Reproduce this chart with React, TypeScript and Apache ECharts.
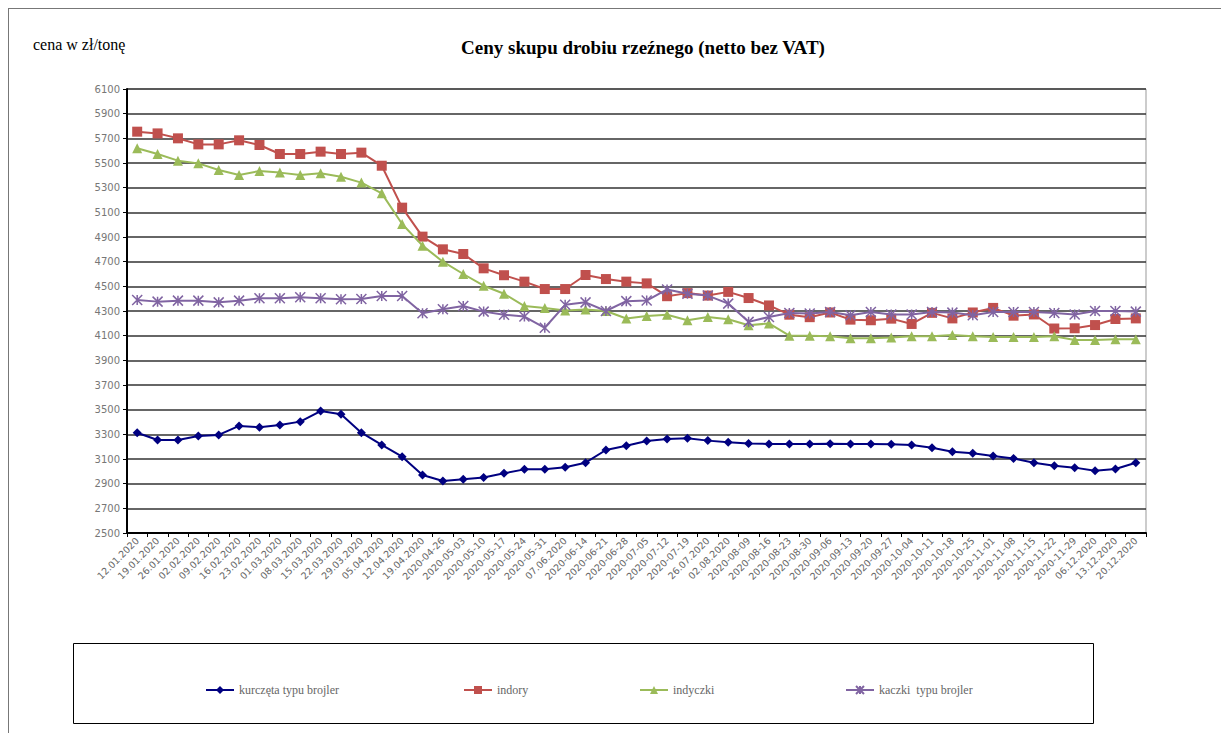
import React, { useEffect, useRef } from "react";
import * as echarts from "echarts";

const categories: string[] = [
  "12.01.2020", "19.01.2020", "26.01.2020", "02.02.2020", "09.02.2020", "16.02.2020", "23.02.2020",
  "01.03.2020", "08.03.2020", "15.03.2020", "22.03.2020", "29.03.2020", "05.04.2020", "12.04.2020",
  "19.04.2020", "2020-04-26", "2020-05-03", "2020-05-10", "2020-05-17", "2020-05-24", "2020-05-31",
  "07.06.2020", "2020-06-14", "2020-06-21", "2020-06-28", "2020-07-05", "2020-07-12", "2020-07-19",
  "26.07.2020", "02.08.2020", "2020-08-09", "2020-08-16", "2020-08-23", "2020-08-30", "2020-09-06",
  "2020-09-13", "2020-09-20", "2020-09-27", "2020-10-04", "2020-10-11", "2020-10-18", "2020-10-25",
  "2020-11-01", "2020-11-08", "2020-11-15", "2020-11-22", "2020-11-29", "06.12.2020", "13.12.2020",
  "20.12.2020",
];

const kurczeta: number[] = [
  3313, 3254, 3254, 3287, 3295, 3368, 3357, 3376, 3403, 3489, 3462, 3313, 3214, 3119, 2970, 2922, 2935,
  2950, 2984, 3016, 3016, 3033, 3070, 3173, 3208, 3246, 3262, 3268, 3249, 3235, 3225, 3222, 3222, 3222,
  3224, 3222, 3222, 3219, 3214, 3192, 3159, 3146, 3124, 3105, 3070, 3046, 3030, 3005, 3019, 3070,
];

const indory: number[] = [
  5754, 5740, 5700, 5651, 5651, 5684, 5646, 5573, 5573, 5592, 5573, 5584, 5478, 5138, 4903, 4800, 4762,
  4646, 4590, 4538, 4478, 4478, 4592, 4559, 4538, 4524, 4420, 4445, 4425, 4455, 4405, 4345, 4270, 4250,
  4288, 4230, 4225, 4238, 4195, 4285, 4240, 4288, 4325, 4262, 4272, 4158, 4160, 4186, 4235, 4240,
];

const indyczki: number[] = [
  5619, 5573, 5519, 5497, 5443, 5403, 5435, 5422, 5403, 5416, 5389, 5341, 5254, 5005, 4830, 4700, 4600,
  4505, 4440, 4340, 4324, 4305, 4313, 4300, 4239, 4260, 4270, 4225, 4252, 4233, 4185, 4199, 4100, 4100,
  4095, 4080, 4080, 4085, 4095, 4095, 4105, 4095, 4090, 4090, 4090, 4095, 4065, 4065, 4070, 4070,
];

const kaczki: number[] = [
  4389, 4376, 4384, 4384, 4370, 4384, 4403, 4403, 4411, 4403, 4395, 4397, 4422, 4422, 4281, 4314, 4341,
  4295, 4270, 4255, 4164, 4350, 4370, 4300, 4380, 4385, 4475, 4440, 4425, 4360, 4212, 4252, 4284, 4279,
  4292, 4265, 4292, 4271, 4271, 4292, 4287, 4265, 4292, 4292, 4292, 4284, 4271, 4300, 4300, 4295,
];

const yTickLabels: string[] = [
  "2500", "2700", "2900", "3100", "3300", "3500", "3700", "3900", "4100",
  "4300", "4500", "4700", "4900", "5100", "5300", "5500", "5700", "5900", "6100",
];

const seriesNames: string[] = ["kurczęta typu brojler", "indory", "indyczki", "kaczki  typu brojler"];
const seriesColors: string[] = ["#000080", "#C0504D", "#9BBB59", "#8064A2"];

const TITLE = "Ceny skupu drobiu rzeźnego (netto bez VAT)";
const Y_NAME = "cena w zł/tonę";

const Y_MIN = Number(yTickLabels[0]);
const Y_MAX = Number(yTickLabels[yTickLabels.length - 1]);

const starPath = "path://M0,0L10,10M10,0L0,10M5,0L5,10";

export default function App() {
  const ref = useRef<HTMLDivElement>(null);

  useEffect(() => {
    if (!ref.current) return;
    const chart = echarts.init(ref.current, undefined, { renderer: "svg" });

    const symbols = ["diamond", "rect", "triangle", starPath];
    const sizes = [9, 10, 10, 10];
    const datasets = [kurczeta, indory, indyczki, kaczki];
    const legendLefts = [200, 458, 634, 840];

    const series = datasets.map((d, i) => ({
      name: seriesNames[i],
      type: "line",
      data: d,
      xAxisIndex: 0,
      yAxisIndex: 0,
      symbol: symbols[i],
      symbolSize: sizes[i],
      showSymbol: true,
      lineStyle: { color: seriesColors[i], width: 2 },
      itemStyle:
        i === 3
          ? { color: "rgba(0,0,0,0)", borderColor: seriesColors[i], borderWidth: 1.5 }
          : { color: seriesColors[i], borderColor: seriesColors[i], borderWidth: 0 },
      z: 3 + i,
    }));

    chart.setOption({
      animation: false,
      backgroundColor: "#ffffff",
      title: {
        text: TITLE,
        left: 638,
        top: 33,
        textAlign: "center",
        textStyle: {
          fontFamily: "Liberation Serif",
          fontWeight: "bold",
          fontSize: 19,
          color: "#000",
        },
      },
      legend: datasets.map((_, i) => ({
        data: [seriesNames[i]],
        left: legendLefts[i],
        top: 679,
        itemWidth: 28,
        itemHeight: 10,
        itemGap: 4,
        textStyle: { fontFamily: "Liberation Serif", fontSize: 12, color: "#666" },
      })),
      grid: {
        left: 127,
        right: 75,
        top: 89,
        bottom: 200,
        show: true,
        borderColor: "#999",
        borderWidth: 1,
        backgroundColor: "#fff",
      },
      xAxis: {
        type: "category",
        data: categories,
        boundaryGap: true,
        axisLine: { show: true, lineStyle: { color: "#000", width: 2 } },
        axisTick: { show: true, length: 4, lineStyle: { color: "#000", width: 1 } },
        axisLabel: {
          interval: 0,
          rotate: 45,
          margin: 6,
          fontFamily: "DejaVu Sans",
          fontSize: 9.5,
          color: "#666",
        },
        splitLine: { show: false },
      },
      yAxis: [
        {
          type: "value",
          min: Y_MIN,
          max: Y_MAX,
          show: false,
          splitLine: { show: false },
        },
        {
          type: "value",
          min: 0,
          max: yTickLabels.length - 1,
          interval: 1,
          position: "left",
          axisLine: { show: true, lineStyle: { color: "#000", width: 2 } },
          axisTick: { show: true, length: 4, lineStyle: { color: "#000" } },
          axisLabel: {
            formatter: (v: number) => yTickLabels[Math.round(v)] ?? "",
            fontFamily: "DejaVu Sans",
            fontSize: 10,
            color: "#777",
            margin: 7,
          },
          splitLine: { show: true, lineStyle: { color: "#333", width: 1.5 } },
        },
      ],
      graphic: [
        {
          type: "line",
          shape: { x1: 8, y1: 8.5, x2: 1221, y2: 8.5 },
          style: { stroke: "#777", lineWidth: 1 },
          silent: true,
        },
        {
          type: "line",
          shape: { x1: 8.5, y1: 8, x2: 8.5, y2: 733 },
          style: { stroke: "#777", lineWidth: 1 },
          silent: true,
        },
        {
          type: "text",
          left: 33,
          top: 36,
          style: {
            text: Y_NAME,
            fontFamily: "Liberation Serif",
            fontSize: 16,
            fill: "#000",
          },
          silent: true,
        },
        {
          type: "rect",
          shape: { x: 73.5, y: 643.5, width: 1020, height: 80 },
          style: { fill: "rgba(0,0,0,0)", stroke: "#000", lineWidth: 1 },
          silent: true,
          z: -1,
        },
      ],
      series,
    });

    return () => {
      chart.dispose();
    };
  }, []);

  return (
    <div
      ref={ref}
      style={{ position: "fixed", left: 0, top: 0, width: 1221, height: 733, background: "#fff" }}
    />
  );
}
